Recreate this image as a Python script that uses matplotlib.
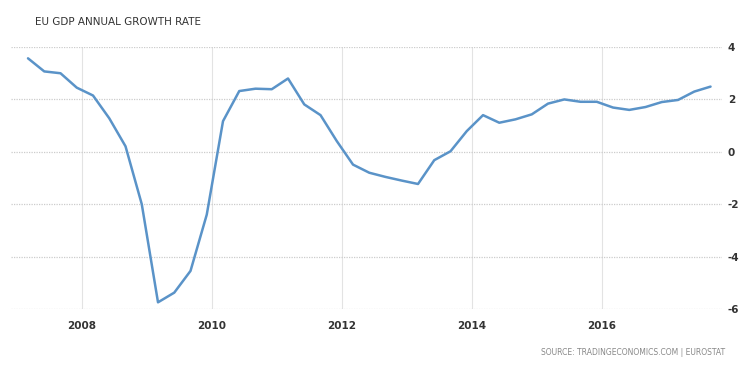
import numpy as np
import matplotlib
matplotlib.use("Agg")
import matplotlib.pyplot as plt

plt.rcParams["axes.unicode_minus"] = False

# quarterly EU GDP y/y growth, 2007Q1 .. 2017Q3
start_year = 2007.17
growth = [3.57, 3.07, 3.00, 2.45, 2.15, 1.28, 0.21, -2.00, -5.75, -5.38,
          -4.55, -2.40, 1.17, 2.32, 2.41, 2.39, 2.80, 1.81, 1.40, 0.41,
          -0.49, -0.80, -0.96, -1.10, -1.23, -0.32, 0.02, 0.79, 1.40, 1.11,
          1.24, 1.43, 1.84, 2.00, 1.91, 1.91, 1.69, 1.60, 1.71, 1.90,
          1.98, 2.30, 2.49]
x_ticks = [2008, 2010, 2012, 2014, 2016]
y_ticks = [-6, -4, -2, 0, 2, 4]

t = start_year + 0.25 * np.arange(len(growth))

fig = plt.figure(figsize=(7.4, 3.89), dpi=100)
ax = fig.add_axes([0.015, 0.206, 0.961, 0.673])

ax.plot(t, growth, color="#5a93c8", lw=1.8, solid_joinstyle="round",
        solid_capstyle="round", zorder=3)

ax.set_xlim(2006.91, 2017.85)
ax.set_ylim(-6, 4)
ax.set_xticks(x_ticks)
ax.set_yticks(y_ticks)
ax.set_xticklabels([str(v) for v in x_ticks])
ax.set_yticklabels([str(v) for v in y_ticks])
ax.yaxis.tick_right()
ax.tick_params(axis="both", length=0, labelsize=7.5, labelcolor="#333333")
ax.tick_params(axis="x", pad=9)
ax.tick_params(axis="y", pad=4)
for lab in ax.get_xticklabels() + ax.get_yticklabels():
    lab.set_fontweight("bold")

ax.grid(axis="y", color="#cccccc", lw=0.9, ls=(0, (1, 1)))
ax.grid(axis="x", color="#e3e3e3", lw=0.8, ls="-")
for s in ax.spines.values():
    s.set_visible(False)

fig.text(0.047, 0.944, "EU GDP ANNUAL GROWTH RATE", fontsize=7.5,
         color="#333333", va="center", ha="left")
fig.text(0.98, 0.093, "SOURCE: TRADINGECONOMICS.COM | EUROSTAT", fontsize=5.5,
         color="#888888", va="center", ha="right")

fig.savefig("out.png", dpi=100)
